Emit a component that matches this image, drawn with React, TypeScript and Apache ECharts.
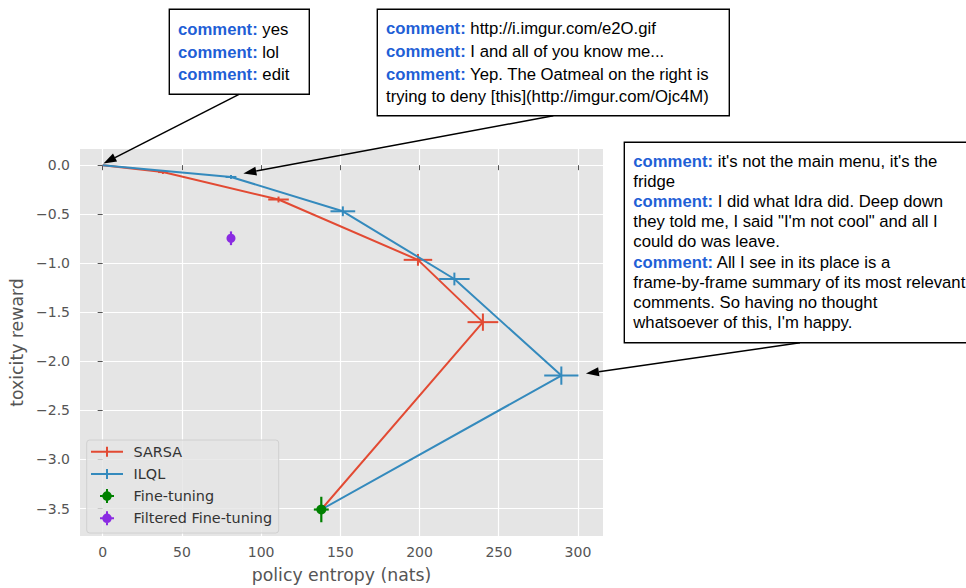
import React, { useEffect, useRef } from "react";
import * as echarts from "echarts";

// ---------- data ----------
const xTicks = [0, 50, 100, 150, 200, 250, 300];
const yTicks = [-3.5, -3, -2.5, -2, -1.5, -1, -0.5, 0];

const sarsaX = [0, 38, 111, 199, 240, 138];
const sarsaY = [0, -0.07, -0.35, -0.965, -1.6, -3.51];
const sarsaXErr = [0, 3, 6.5, 9, 9.7, 0];
const sarsaYErr = [0, 0.02, 0.03, 0.06, 0.088, 0];

const ilqlX = [0, 81, 151.6, 222, 289.5, 138];
const ilqlY = [0, -0.12, -0.47, -1.16, -2.145, -3.51];
const ilqlXErr = [0, 3.4, 7.8, 9.6, 10.8, 0];
const ilqlYErr = [0, 0.02, 0.05, 0.065, 0.093, 0];

const fineX = [138];
const fineY = [-3.51];
const fineXErr = [4.7];
const fineYErr = [0.13];

const filtX = [81];
const filtY = [-0.745];
const filtXErr = [0];
const filtYErr = [0.07];

const box1Lines = ["comment:|yes", "comment:|lol", "comment:|edit"];
const box2Lines = [
  "comment:|http://i.imgur.com/e2O.gif",
  "comment:|I and all of you know me...",
  "comment:|Yep. The Oatmeal on the right is",
  "|trying to deny [this](http://imgur.com/Ojc4M)",
];
const box3Lines = [
  "comment:|it's not the main menu, it's the",
  "|fridge",
  "comment:|I did what Idra did. Deep down",
  "|they told me, I said \"I'm not cool\" and all I",
  "|could do was leave.",
  "comment:|All I see in its place is a",
  "|frame-by-frame summary of its most relevant",
  "|comments. So having no thought",
  "|whatsoever of this, I'm happy.",
];

const RED = "#E24A33";
const BLUE = "#348ABD";
const GREEN = "#008000";
const PURPLE = "#8A2BE2";
const CHART_FONT = "DejaVu Sans";
const NOTE_FONT = "Liberation Sans";

function errData(xs: number[], ys: number[], xe: number[], ye: number[]) {
  return xs.map((x, i) => [x, ys[i], xe[i], ye[i]]);
}

function errSeries(name: string, color: string, data: number[][], z: number, lw = 2) {
  return {
    name,
    type: "custom",
    z,
    silent: true,
    encode: { x: 0, y: 1 },
    data,
    itemStyle: { color },
    renderItem: (_p: any, api: any) => {
      const x = api.value(0);
      const y = api.value(1);
      const xe = api.value(2);
      const ye = api.value(3);
      const l = api.coord([x - xe, y]);
      const r = api.coord([x + xe, y]);
      const t = api.coord([x, y + ye]);
      const b = api.coord([x, y - ye]);
      return {
        type: "group",
        children: [
          { type: "line", shape: { x1: l[0], y1: l[1], x2: r[0], y2: r[1] }, style: { stroke: color, lineWidth: lw } },
          { type: "line", shape: { x1: t[0], y1: t[1], x2: b[0], y2: b[1] }, style: { stroke: color, lineWidth: lw } },
        ],
      };
    },
  };
}

const lineIcon = "path://M0,4h32v2h-32z M15,0h2v10h-2z";
const markerIcon =
  "path://M6,0h2v14h-2z M0,6h14v2h-14z M2.2,7a4.8,4.8 0 1,1 9.6,0a4.8,4.8 0 1,1 -9.6,0z";

function fmtY(v: number) {
  return v.toFixed(1).replace("-", "\u2212");
}

function noteBox(x: number, y: number, w: number, h: number, tx: number, ty0: number, step: number, lines: string[]) {
  const els: any[] = [
    { type: "rect", shape: { x, y, width: w, height: h }, style: { fill: "#fff", stroke: "#000", lineWidth: 1.4 }, z: 100 },
  ];
  lines.forEach((ln, i) => {
    const [b, rest] = ln.split("|");
    const text = b ? `{b|${b}} ${rest}` : rest;
    els.push({
      type: "text",
      x: tx,
      y: ty0 + i * step,
      z: 101,
      style: {
        text,
        fill: "#000",
        fontSize: 16.7,
        fontFamily: NOTE_FONT,
        verticalAlign: "middle",
        align: "left",
        rich: {
          b: { fontWeight: "bold", fill: "#1F5FD6", fontSize: 16.7, fontFamily: NOTE_FONT },
        },
      },
    });
  });
  return els;
}

function arrow(sx: number, sy: number, tx: number, ty: number) {
  const dx = tx - sx;
  const dy = ty - sy;
  const len = Math.hypot(dx, dy);
  const ux = dx / len;
  const uy = dy / len;
  const hl = 13;
  const hw = 4.5;
  const bx = tx - ux * hl;
  const by = ty - uy * hl;
  return [
    { type: "line", z: 100, shape: { x1: sx, y1: sy, x2: bx, y2: by }, style: { stroke: "#000", lineWidth: 1.5 } },
    {
      type: "polygon",
      z: 100,
      shape: { points: [[tx, ty], [bx - uy * hw, by + ux * hw], [bx + uy * hw, by - ux * hw]] },
      style: { fill: "#000" },
    },
  ];
}

export default function App() {
  const ref = useRef<HTMLDivElement>(null);
  useEffect(() => {
    document.body.style.margin = "0";
    const chart = echarts.init(ref.current!, null, { renderer: "svg" });
    const axisFont = { color: "#555555", fontSize: 14, fontFamily: CHART_FONT };
    const option: any = {
      animation: false,
      grid: {
        left: 80,
        right: 363,
        top: 149,
        bottom: 49.5,
        show: true,
        backgroundColor: "#E5E5E5",
        borderWidth: 0,
      },
      xAxis: {
        type: "value",
        min: -14.3,
        max: 315.8,
        name: "policy entropy (nats)",
        nameLocation: "middle",
        nameGap: 30,
        nameTextStyle: { color: "#555555", fontSize: 17.3, fontFamily: CHART_FONT },
        axisLine: { show: false },
        axisTick: { show: true, length: 5, lineStyle: { color: "#555555", width: 1 }, customValues: xTicks },
        axisLabel: { ...axisFont, margin: 9, customValues: xTicks },
        splitLine: { show: true, lineStyle: { color: "#FFFFFF", width: 1.2 } },
      },
      yAxis: {
        type: "value",
        min: -3.78,
        max: 0.165,
        name: "toxicity reward",
        nameLocation: "middle",
        nameRotate: 90,
        nameGap: 52,
        nameTextStyle: { color: "#555555", fontSize: 17.3, fontFamily: CHART_FONT },
        axisLine: { show: false },
        axisTick: { show: true, length: 5, lineStyle: { color: "#555555", width: 1 }, customValues: yTicks },
        axisLabel: { ...axisFont, margin: 10, customValues: yTicks, formatter: (v: number) => fmtY(v) },
        splitLine: { show: true, lineStyle: { color: "#FFFFFF", width: 1.2 } },
      },
      legend: {
        left: 86.7,
        top: 440,
        orient: "vertical",
        itemWidth: 32,
        itemHeight: 14,
        itemGap: 8.2,
        padding: [4.7, 6.7, 7.7, 4.3],
        backgroundColor: "rgba(229,229,229,0.8)",
        borderColor: "#D0D0D0",
        borderWidth: 1,
        borderRadius: 3,
        selectedMode: false,
        itemStyle: { borderWidth: 0 },
        textStyle: { color: "#333333", fontSize: 14.4, fontFamily: CHART_FONT, lineHeight: 14, padding: [0, 0, 0, 5.6] },
        data: [
          { name: "SARSA", icon: lineIcon },
          { name: "ILQL", icon: lineIcon },
          { name: "Fine-tuning", icon: markerIcon },
          { name: "Filtered Fine-tuning", icon: markerIcon },
        ],
      },
      series: [
        {
          name: "SARSA",
          type: "line",
          z: 2,
          color: RED,
          symbol: "none",
          data: sarsaX.map((x, i) => [x, sarsaY[i]]),
          lineStyle: { color: RED, width: 2 },
          itemStyle: { color: RED },
        },
        errSeries("SARSA", RED, errData(sarsaX, sarsaY, sarsaXErr, sarsaYErr), 3),
        {
          name: "ILQL",
          type: "line",
          z: 4,
          color: BLUE,
          symbol: "none",
          data: ilqlX.map((x, i) => [x, ilqlY[i]]),
          lineStyle: { color: BLUE, width: 2 },
          itemStyle: { color: BLUE },
        },
        errSeries("ILQL", BLUE, errData(ilqlX, ilqlY, ilqlXErr, ilqlYErr), 5),
        {
          name: "Fine-tuning",
          type: "scatter",
          z: 7,
          color: GREEN,
          symbolSize: 10,
          data: fineX.map((x, i) => [x, fineY[i]]),
          itemStyle: { color: GREEN, opacity: 1 },
        },
        errSeries("Fine-tuning", GREEN, errData(fineX, fineY, fineXErr, fineYErr), 6, 2.2),
        {
          name: "Filtered Fine-tuning",
          type: "scatter",
          z: 9,
          color: PURPLE,
          symbolSize: 9,
          data: filtX.map((x, i) => [x, filtY[i]]),
          itemStyle: { color: PURPLE, opacity: 1 },
        },
        errSeries("Filtered Fine-tuning", PURPLE, errData(filtX, filtY, filtXErr, filtYErr), 8, 2.2),
      ],
    };
    chart.setOption(option);

    const px = (x: number, y: number) => chart.convertToPixel({ gridIndex: 0 }, [x, y]) as number[];
    const t1 = px(sarsaX[0], sarsaY[0]);
    const t2 = px(ilqlX[1], ilqlY[1]);
    const t3 = px(ilqlX[4], ilqlY[4]);

    const graphic: any[] = [
      ...noteBox(169.3, 9.3, 140, 85, 178, 29.3, 22.7, box1Lines),
      ...noteBox(377.3, 9.3, 352, 106.4, 386, 28.8, 22.6, box2Lines),
      ...noteBox(624.3, 142.3, 350, 200.4, 633.3, 161.5, 20.1, box3Lines),
      ...arrow(239, 94.3, t1[0] + 0.8, t1[1] - 1.7),
      ...arrow(553.3, 115.7, t2[0] + 12.4, t2[1] - 3.5),
      ...arrow(800, 342.7, t3[0] + 24.6, t3[1] - 2),
    ];
    chart.setOption({ graphic });

    return () => chart.dispose();
  }, []);
  return <div ref={ref} style={{ position: "absolute", left: 0, top: 0, width: 966, height: 588 }} />;
}
